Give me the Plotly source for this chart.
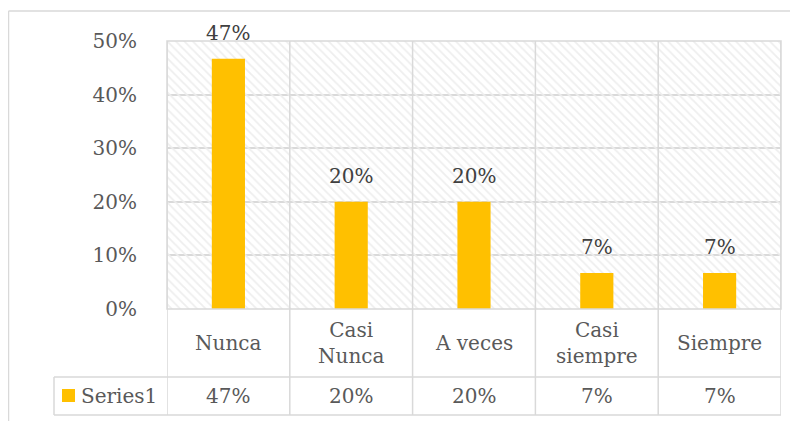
import plotly.graph_objects as go

categorias = ["Nunca", "Casi<br>Nunca", "A veces", "Casi<br>siempre", "Siempre"]
valores = [0.467, 0.20, 0.20, 0.067, 0.067]
serie = "Series1"
y_ticks = [0, 0.1, 0.2, 0.3, 0.4, 0.5]

FONT = "DejaVu Serif"
SIZE = 20
GRIS = "#d9d9d9"
TXT = "#595959"
AMARILLO = "#ffc000"

# la página añade 8 px de margen al cuerpo
OX, OY = 8, 8
W, H = 798 - OX, 421 - OY
# área de trazado en píxeles de la ventana
L, R, T, B = 167, 781, 41, 309
PW, PH = R - L, B - T


def px(x):
    return (x - L) / PW


def py(y):
    return (B - y) / PH


fig = go.Figure()

# fondo rayado del área de trazado
fig.add_trace(go.Bar(
    x=list(range(len(categorias))),
    y=[max(y_ticks)] * len(categorias),
    width=1,
    marker=dict(color="#eeeeee", line=dict(width=0),
                pattern=dict(shape="\\", size=6, solidity=0.3, fillmode="replace")),
    hoverinfo="skip",
    showlegend=False,
))

fig.add_trace(go.Bar(
    x=list(range(len(categorias))),
    y=valores,
    width=0.27,
    marker=dict(color=AMARILLO, line=dict(width=0)),
    name=serie,
    showlegend=False,
))

# etiquetas de datos
for i, v in enumerate(valores):
    fig.add_annotation(x=i, y=v, xref="x", yref="y", text=f"{v:.0%}",
                       showarrow=False, yanchor="bottom", yshift=12,
                       font=dict(family=FONT, size=SIZE, color="#404040"))

# tabla de datos
row1 = 377
row2 = 415
leg_left = 54
shapes = []
# bordes exteriores del gráfico
shapes.append(dict(type="line", xref="paper", yref="paper", x0=px(8.5), x1=px(800),
                   y0=py(11), y1=py(11), line=dict(color=GRIS, width=1.5)))
shapes.append(dict(type="line", xref="paper", yref="paper", x0=px(8.5), x1=px(8.5),
                   y0=py(11), y1=py(425), line=dict(color=GRIS, width=1.5)))
# borde del área de trazado
shapes.append(dict(type="rect", xref="paper", yref="paper", x0=0, x1=1, y0=0, y1=1,
                   line=dict(color=GRIS, width=1.5)))
# separadores verticales
for k in range(len(categorias) + 1):
    shapes.append(dict(type="line", xref="x", yref="paper", x0=k - 0.5, x1=k - 0.5,
                       y0=py(row2), y1=1, line=dict(color=GRIS, width=1.5)))
# líneas horizontales de la tabla
for yy in [row1, row2]:
    shapes.append(dict(type="line", xref="paper", yref="paper", x0=px(leg_left), x1=1,
                       y0=py(yy), y1=py(yy), line=dict(color=GRIS, width=1.5)))
shapes.append(dict(type="line", xref="paper", yref="paper", x0=px(leg_left), x1=px(leg_left),
                   y0=py(row1), y1=py(row2), line=dict(color=GRIS, width=1.5)))
# clave de leyenda
shapes.append(dict(type="rect", xref="paper", yref="paper", x0=px(62), x1=px(75),
                   y0=py(402), y1=py(389), fillcolor=AMARILLO, line=dict(width=0)))

for i, (c, v) in enumerate(zip(categorias, valores)):
    fig.add_annotation(x=i, y=py((B + row1) / 2), xref="x", yref="paper", text=c,
                       showarrow=False, yanchor="middle",
                       font=dict(family=FONT, size=SIZE, color=TXT))
    fig.add_annotation(x=i, y=py((row1 + row2) / 2), xref="x", yref="paper", text=f"{v:.0%}",
                       showarrow=False, yanchor="middle",
                       font=dict(family=FONT, size=SIZE, color=TXT))

fig.add_annotation(x=px(79), y=py((row1 + row2) / 2), xref="paper", yref="paper", text=serie,
                   showarrow=False, xanchor="left", yanchor="middle",
                   font=dict(family=FONT, size=SIZE, color=TXT))

fig.update_layout(
    width=W, height=H,
    margin=dict(l=L - OX, r=W + OX - R, t=T - OY, b=H + OY - B),
    barmode="overlay",
    paper_bgcolor="white",
    plot_bgcolor="white",
    showlegend=False,
    shapes=shapes,
    xaxis=dict(range=[-0.5, len(categorias) - 0.5], showticklabels=False, showgrid=False,
               zeroline=False, showline=False),
    yaxis=dict(range=[0, max(y_ticks)], tickvals=y_ticks, tickformat=".0%",
               showgrid=True, gridcolor=GRIS, gridwidth=1.5, zeroline=False,
               ticks="outside", ticklen=0, ticklabelstandoff=25,
               tickfont=dict(family=FONT, size=SIZE, color=TXT)),
)

fig.write_html("out.html")
